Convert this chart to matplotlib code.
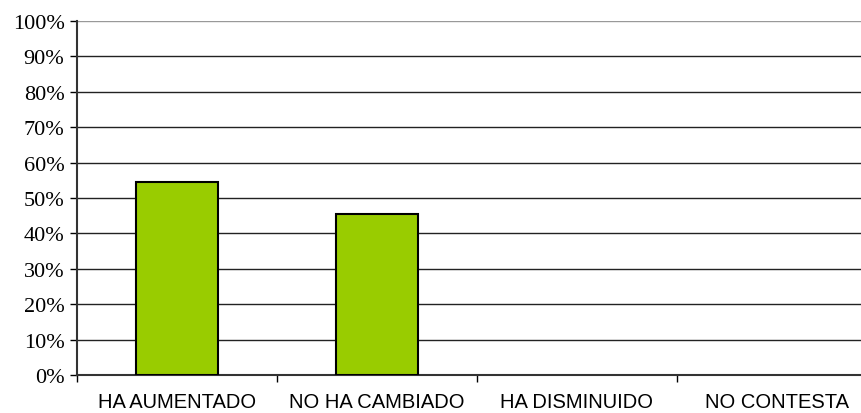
import matplotlib; matplotlib.use("Agg")
import matplotlib.pyplot as plt
import numpy as np

categories = ["HA AUMENTADO", "NO HA CAMBIADO", "HA DISMINUIDO", "NO CONTESTA"]
values = [54.5, 45.5, 0, 0]
yticks = list(range(0, 101, 10))

fig = plt.figure(figsize=(8.62, 4.14), dpi=100)
W, H = 862, 414
x0, x1, y0, y1 = 77, 877, 376, 22
ax = fig.add_axes([x0 / W, 1 - y0 / H, (x1 - x0) / W, (y0 - y1) / H])

x = np.arange(len(categories))
lws = [1.5 if v > 0 else 0 for v in values]
ax.bar(x, values, width=0.41, color="#99cc00", edgecolor="black", lw=lws, zorder=3)
ax.set_xlim(-0.5, len(categories) - 0.5)
ax.set_ylim(0, 100)
ax.set_yticks(yticks)
ax.set_yticklabels([f"{v}%" for v in yticks], family="Liberation Serif", fontsize=16)
ax.yaxis.grid(True, color="#222222", lw=1)
ax.set_axisbelow(True)
ax.get_ygridlines()[-1].set_color("#999999")

ax.set_xticks(np.arange(len(categories) + 1) - 0.5)
ax.set_xticklabels([])
ax.set_xticks(x, minor=True)
ax.set_xticklabels(categories, minor=True, family="Liberation Sans", fontsize=14.5)
ax.tick_params(axis="x", which="minor", length=0, pad=12)
ax.tick_params(axis="x", which="major", length=5, width=1, direction="out")
ax.tick_params(axis="y", length=5, width=1, direction="out", pad=4)

for s in ["top", "right"]:
    ax.spines[s].set_visible(False)
ax.spines["left"].set_color("#333333"); ax.spines["left"].set_lw(1.5)
ax.spines["bottom"].set_color("#333333"); ax.spines["bottom"].set_lw(1.5)

fig.savefig("out.png", dpi=100)
